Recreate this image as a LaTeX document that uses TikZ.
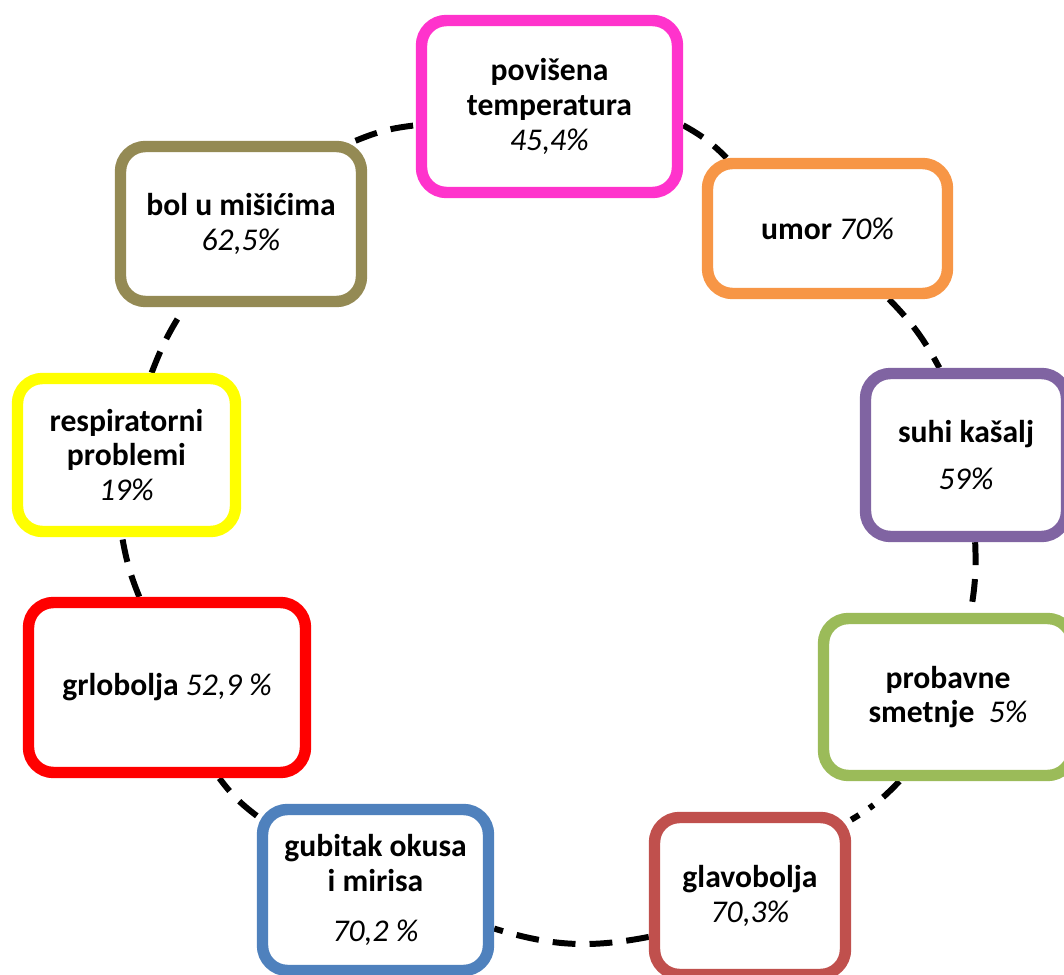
\documentclass[tikz,border=0pt]{standalone}
\usepackage{fontspec}
\setmainfont{Carlito}
\usetikzlibrary{backgrounds}

\tikzset{every picture/.style={line width=0.75pt}}
\tikzset{
  symptom/.style={draw=#1,fill=white,line width=6.5pt,rounded corners=0.5cm,
    align=center,inner sep=0pt,font=\bfseries\fontsize{18}{19.8}\selectfont},
  link/.style={black,line width=3.4pt,dash pattern=on 13pt off 8pt},
  linkdot/.style={black,line width=3.4pt,dash pattern=on 13pt off 7pt on 3pt off 7pt}
}
\definecolor{ruza}{RGB}{255,51,204}
\definecolor{narancasta}{RGB}{247,150,70}
\definecolor{ljubicasta}{RGB}{128,100,162}
\definecolor{zelena}{RGB}{155,187,89}
\definecolor{ciglasta}{RGB}{192,80,77}
\definecolor{plava}{RGB}{79,129,189}
\definecolor{crvena}{RGB}{255,0,0}
\definecolor{zuta}{RGB}{255,255,0}
\definecolor{maslinasta}{RGB}{148,138,84}
\newcommand{\postotak}[1]{{\mdseries\itshape #1}}

\begin{document}
\begin{tikzpicture}
			\useasboundingbox (0,0) rectangle (21.28,19.48);

			\node [symptom=ruza,minimum width=5.12cm,minimum height=3.44cm](temp) at (10.99,17.35) {povišena\\temperatura\\\postotak{45,4\%}};
			\node [symptom=narancasta,minimum width=4.80cm,minimum height=2.60cm](umor) at (16.55,14.91) {umor \postotak{70\%}};
			\node [symptom=ljubicasta,minimum width=4.02cm,minimum height=3.26cm](kasalj) at (19.32,10.38) {suhi kašalj\\[7pt]\postotak{59\%}};
			\node [symptom=zelena,minimum width=4.98cm,minimum height=3.14cm](probava) at (18.96,5.54) {probavne\\smetnje~~\postotak{5\%}};
			\node [symptom=ciglasta,minimum width=3.82cm,minimum height=3.14cm](glava) at (15.00,1.56) {glavobolja\\\postotak{70,3\%}};
			\node [symptom=plava,minimum width=4.52cm,minimum height=3.22cm](okus) at (7.51,1.68) {gubitak okusa\\i mirisa\\[9pt]\postotak{70,2 \%}};
			\node [symptom=crvena,minimum width=5.54cm,minimum height=3.40cm](grlo) at (3.34,5.73) {grlobolja \postotak{52,9 \%}};
			\node [symptom=zuta,minimum width=4.36cm,minimum height=3.06cm](resp) at (2.53,10.38) {respiratorni\\problemi\\\postotak{19\%}};
			\node [symptom=maslinasta,minimum width=4.82cm,minimum height=3.10cm](misici) at (4.82,15.00) {bol u mišićima\\\postotak{62,5\%}};

			\begin{scope}[on background layer]
			\draw [link] (temp.-8) to [bend left=8] (umor.145);
			\draw [link] (umor.-49) to [bend left=8] (kasalj.107);
			\draw [link] (kasalj.-84) to [bend left=6] (probava.75);
			\draw [linkdot] (probava.240) to [bend left=8] (glava.37);
			\draw [link] (glava.202) to [bend left=14] (okus.-18);
			\draw [link] (okus.148) to [bend left=8] (grlo.-60);
			\draw [link] (grlo.107) to [bend left=6] (resp.267);
			\draw [link] (resp.73) to [bend left=6] (misici.236);
			\draw [link] (misici.36) to [bend left=8] (temp.188);
			\end{scope}
		\end{tikzpicture}
\end{document}
